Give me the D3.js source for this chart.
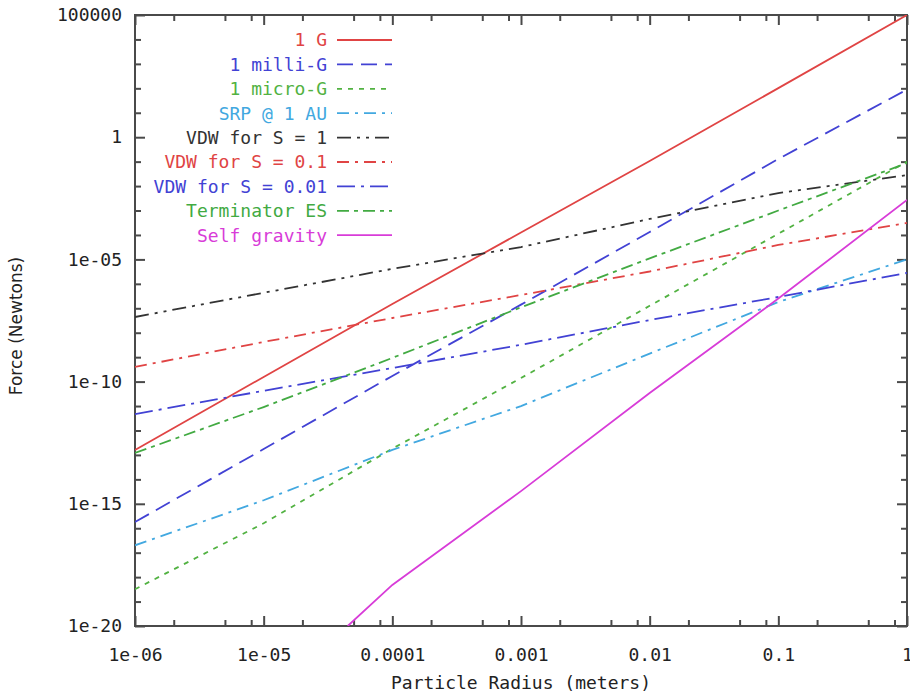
<!DOCTYPE html>
<html>
<head>
<meta charset="utf-8">
<script src="https://cdn.jsdelivr.net/npm/d3@7"></script>
<style>
  body { margin: 0; background: #fff; }
  .axis path { display: none; }
  .axis text { font-family: "DejaVu Sans Mono", monospace; font-size: 18px; fill: #222; }
</style>
</head>
<body>
<script>
/* global d3 */

// Particle radius (m) at each decade
const radius = [1e-6, 1e-5, 1e-4, 1e-3, 1e-2, 1e-1, 1];

// Force (N)
const oneG = [1.6e-13, 1.55e-10, 1.5e-7, 1.26e-4, 0.107, 102, 1e5];
const milliG = [1.8e-16, 1.74e-13, 1.7e-10, 1.41e-7, 1.32e-4, 0.129, 89];
const microG = [3.2e-19, 1.6e-16, 1.8e-13, 1.4e-10, 1.26e-7, 1.12e-4, 0.1];
const srp = [2.0e-17, 1.4e-15, 1.6e-13, 1.0e-11, 1.4e-9, 1.8e-7, 1.0e-5];
const vdw1 = [4.4e-8, 4.3e-7, 4.1e-6, 3.2e-5, 4.5e-4, 5.2e-3, 2.8e-2];
const vdw01 = [4.0e-10, 4.2e-9, 4.0e-8, 3.5e-7, 3.2e-6, 3.9e-5, 3.1e-4];
const vdw001 = [4.7e-12, 4.2e-11, 3.6e-10, 3.2e-9, 3.3e-8, 2.9e-7, 2.8e-6];
const terminator = [1.2e-13, 9.1e-12, 9.3e-10, 1.1e-7, 1.1e-5, 1.0e-3, 8.7e-2];
const selfGravRadius = [4.5e-5, 1e-4, 1e-3, 1e-2, 1e-1, 1];
const selfGrav = [1e-20, 4.8e-19, 3.3e-15, 3.4e-11, 2.5e-7, 2.7e-3];

// Tick labels
const xTicks = [1e-6, 1e-5, 1e-4, 1e-3, 1e-2, 1e-1, 1];
const xTickLabels = ['1e-06', '1e-05', '0.0001', '0.001', '0.01', '0.1', '1'];
const yTicks = [1e5, 1, 1e-5, 1e-10, 1e-15, 1e-20];
const yTickLabels = ['100000', '1', '1e-05', '1e-10', '1e-15', '1e-20'];

const series = [
  { name: '1 G', x: radius, y: oneG, color: '#e04444', dash: null },
  { name: '1 milli-G', x: radius, y: milliG, color: '#4242d4', dash: '16,8' },
  { name: '1 micro-G', x: radius, y: microG, color: '#52b242', dash: '5,6' },
  { name: 'SRP @ 1 AU', x: radius, y: srp, color: '#42a8e0', dash: '12,6,3,6' },
  { name: 'VDW for S = 1', x: radius, y: vdw1, color: '#333333', dash: '14,6,3,6,3,6' },
  { name: 'VDW for S = 0.1', x: radius, y: vdw01, color: '#e04444', dash: '12,6,3,6' },
  { name: 'VDW for S = 0.01', x: radius, y: vdw001, color: '#4242d4', dash: '18,6,3,6' },
  { name: 'Terminator ES', x: radius, y: terminator, color: '#42aa42', dash: '12,5,4,5' },
  { name: 'Self gravity', x: selfGravRadius, y: selfGrav, color: '#d83cd8', dash: null }
];

// SVG parameters
const svgWidth = 910;
const svgHeight = 698;
const plotLeft = 135, plotRight = 907, plotTop = 15, plotBottom = 626;
const axisColor = '#4a4a4a';

const svg = d3.select('body')
.append('svg')
.attr('width', svgWidth)
.attr('height', svgHeight);

// Scaling
const xScale = d3.scaleLog()
.domain([1e-6, 1])
.range([plotLeft, plotRight]);

const yScale = d3.scaleLog()
.domain([1e-20, 1e5])
.range([plotBottom, plotTop]);

// minor ticks
const xMinor = [];
xTicks.slice(0, -1).forEach(d => [2, 5, 8].forEach(m => xMinor.push(d * m)));
const yMinor = d3.range(-20, 6).map(e => Math.pow(10, e)).filter(v => !yTicks.includes(v));

const xFmt = d => xTickLabels[xTicks.indexOf(d)];
const yFmt = d => yTickLabels[yTicks.indexOf(d)];

function addAxis(axis, tx, ty) {
  const g = svg.append('g')
  .attr('class', 'axis')
  .attr('transform', `translate(${tx}, ${ty})`)
  .call(axis);
  g.selectAll('.tick line')
  .attr('stroke', axisColor)
  .attr('stroke-width', 2);
  return g;
}

// bottom + top axes
addAxis(d3.axisBottom(xScale).tickValues(xTicks).tickFormat(xFmt).tickSize(-10).tickPadding(22), 0, plotBottom);
addAxis(d3.axisBottom(xScale).tickValues(xMinor).tickFormat(() => '').tickSize(-6), 0, plotBottom);
addAxis(d3.axisTop(xScale).tickValues(xTicks).tickFormat(() => '').tickSize(-10), 0, plotTop);
addAxis(d3.axisTop(xScale).tickValues(xMinor).tickFormat(() => '').tickSize(-6), 0, plotTop);

// left + right axes
addAxis(d3.axisLeft(yScale).tickValues(yTicks).tickFormat(yFmt).tickSize(-10).tickPadding(13), plotLeft, 0);
addAxis(d3.axisLeft(yScale).tickValues(yMinor).tickFormat(() => '').tickSize(-6), plotLeft, 0);
addAxis(d3.axisRight(yScale).tickValues(yTicks).tickFormat(() => '').tickSize(-10), plotRight, 0);
addAxis(d3.axisRight(yScale).tickValues(yMinor).tickFormat(() => '').tickSize(-6), plotRight, 0);

// frame
svg.append('rect')
.attr('x', plotLeft).attr('y', plotTop)
.attr('width', plotRight - plotLeft).attr('height', plotBottom - plotTop)
.attr('fill', 'none').attr('stroke', axisColor).attr('stroke-width', 2);

svg.append('clipPath').attr('id', 'plot')
.append('rect')
.attr('x', plotLeft).attr('y', plotTop)
.attr('width', plotRight - plotLeft).attr('height', plotBottom - plotTop);

const line = d3.line()
.x(d => xScale(d[0]))
.y(d => yScale(d[1]));

svg.append('g')
.attr('clip-path', 'url(#plot)')
.selectAll('path')
.data(series)
.enter()
.append('path')
.attr('d', s => line(s.x.map((r, i) => [r, s.y[i]])))
.attr('fill', 'none')
.attr('stroke', s => s.color)
.attr('stroke-width', 1.8)
.attr('stroke-dasharray', s => s.dash);

// Legend
const legend = svg.append('g')
.selectAll('g')
.data(series)
.enter()
.append('g')
.attr('transform', (s, i) => `translate(0, ${40 + i * 24.4})`);

legend.append('text')
.attr('x', 327)
.attr('dy', '0.35em')
.attr('text-anchor', 'end')
.attr('font-family', '"DejaVu Sans Mono", monospace')
.attr('font-size', '18px')
.attr('fill', s => s.color)
.text(s => s.name);

legend.append('line')
.attr('x1', 337).attr('x2', 392)
.attr('stroke', s => s.color)
.attr('stroke-width', 1.8)
.attr('stroke-dasharray', s => s.dash);

// Axis titles
svg.append('text')
.attr('x', (plotLeft + plotRight) / 2)
.attr('y', 689)
.attr('text-anchor', 'middle')
.attr('font-family', '"DejaVu Sans Mono", monospace')
.attr('font-size', '18px')
.attr('fill', '#222')
.text('Particle Radius (meters)');

svg.append('text')
.attr('transform', 'translate(22, 326) rotate(-90)')
.attr('text-anchor', 'middle')
.attr('font-family', '"DejaVu Sans", sans-serif')
.attr('font-size', '17px')
.attr('fill', '#222')
.text('Force (Newtons)');
</script>
</body>
</html>
